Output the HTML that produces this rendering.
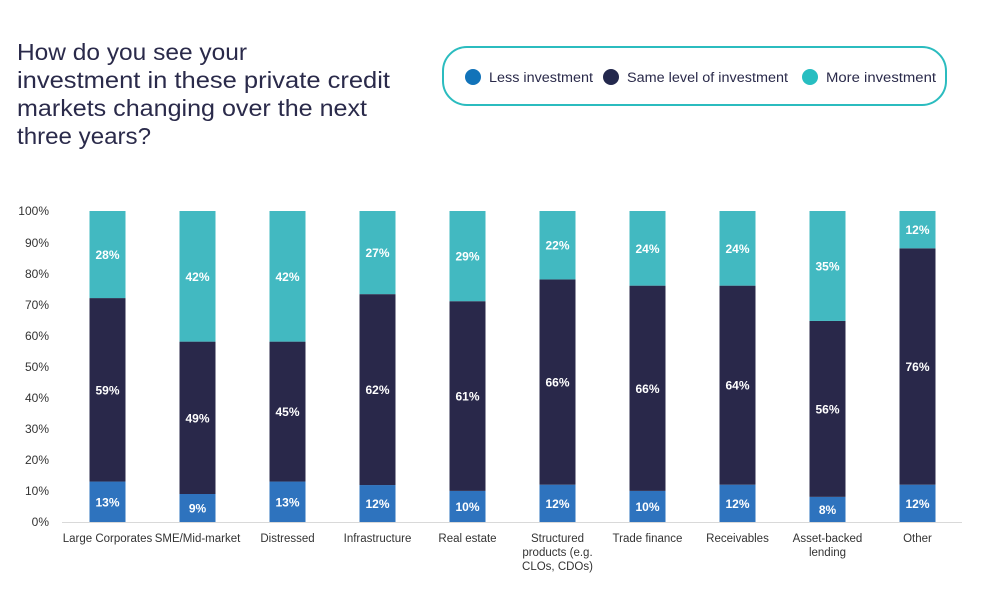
<!DOCTYPE html>
<html><head><meta charset="utf-8"><style>
body{margin:0;background:#fff;width:989px;height:608px;overflow:hidden;font-family:"Liberation Sans",sans-serif}
</style></head><body>
<svg width="989" height="608" xmlns="http://www.w3.org/2000/svg" font-family="Liberation Sans, sans-serif">
<g fill="#2a2a4a" font-size="23.5">
<text x="17" y="60" textLength="230" lengthAdjust="spacingAndGlyphs">How do you see your</text>
<text x="17" y="88" textLength="373" lengthAdjust="spacingAndGlyphs">investment in these private credit</text>
<text x="17" y="116" textLength="350" lengthAdjust="spacingAndGlyphs">markets changing over the next</text>
<text x="17" y="144" textLength="134" lengthAdjust="spacingAndGlyphs">three years?</text>
</g>
<rect x="443" y="47" width="503" height="58" rx="24" fill="#fff" stroke="#2bbcbf" stroke-width="2"/>
<g font-size="13.5" fill="#2a2a4a">
<circle cx="473" cy="77" r="8" fill="#1273b9"/><text x="489" y="82" textLength="104" lengthAdjust="spacingAndGlyphs">Less investment</text>
<circle cx="611" cy="77" r="8" fill="#23284d"/><text x="627" y="82" textLength="161" lengthAdjust="spacingAndGlyphs">Same level of investment</text>
<circle cx="810" cy="77" r="8" fill="#27bec1"/><text x="826" y="82" textLength="110" lengthAdjust="spacingAndGlyphs">More investment</text>
</g>
<g font-size="12" fill="#333" text-anchor="end">
<text x="49" y="526">0%</text><text x="49" y="495">10%</text><text x="49" y="464">20%</text><text x="49" y="433">30%</text><text x="49" y="402">40%</text><text x="49" y="371">50%</text><text x="49" y="340">60%</text><text x="49" y="309">70%</text><text x="49" y="278">80%</text><text x="49" y="247">90%</text><text x="49" y="215">100%</text>
</g>
<line x1="62" y1="522.5" x2="962" y2="522.5" stroke="#d9d9d9" stroke-width="1"/>
<g id="bars"></g>
</svg>
<script>
var d=[["Large Corporates",13,59,28],["SME/Mid-market",9,49,42],["Distressed",13,45,42],["Infrastructure",12,62,27],["Real estate",10,61,29],["Structured|products (e.g.|CLOs, CDOs)",12,66,22],["Trade finance",10,66,24],["Receivables",12,64,24],["Asset-backed|lending",8,56,35],["Other",12,76,12]];
var g=document.getElementById('bars'),s='';
var H=311,B=522;
d.forEach(function(r,i){
 var cx=107.5+i*90,x=cx-18,t=r[1]+r[2]+r[3];
 var h1=r[1]/t*H,h2=r[2]/t*H,h3=H-h1-h2;
 var y1=B-h1,y2=y1-h2,y3=211;
 s+='<rect x="'+x+'" y="'+y1+'" width="36" height="'+h1+'" fill="#2e73be"/>';
 s+='<rect x="'+x+'" y="'+y2+'" width="36" height="'+h2+'" fill="#29284a"/>';
 s+='<rect x="'+x+'" y="'+y3+'" width="36" height="'+h3+'" fill="#42b9c1"/>';
 [[y1,h1,r[1]],[y2,h2,r[2]],[y3,h3,r[3]]].forEach(function(q){
  s+='<text x="'+cx+'" y="'+(q[0]+q[1]/2+4.5)+'" fill="#fff" font-size="12" font-weight="bold" text-anchor="middle">'+q[2]+'%</text>';});
 r[0].split('|').forEach(function(l,k){
  s+='<text x="'+cx+'" y="'+(542+k*14)+'" fill="#333" font-size="11.5" text-anchor="middle">'+l+'</text>';});
});
g.innerHTML=s;
</script>
</body></html>
